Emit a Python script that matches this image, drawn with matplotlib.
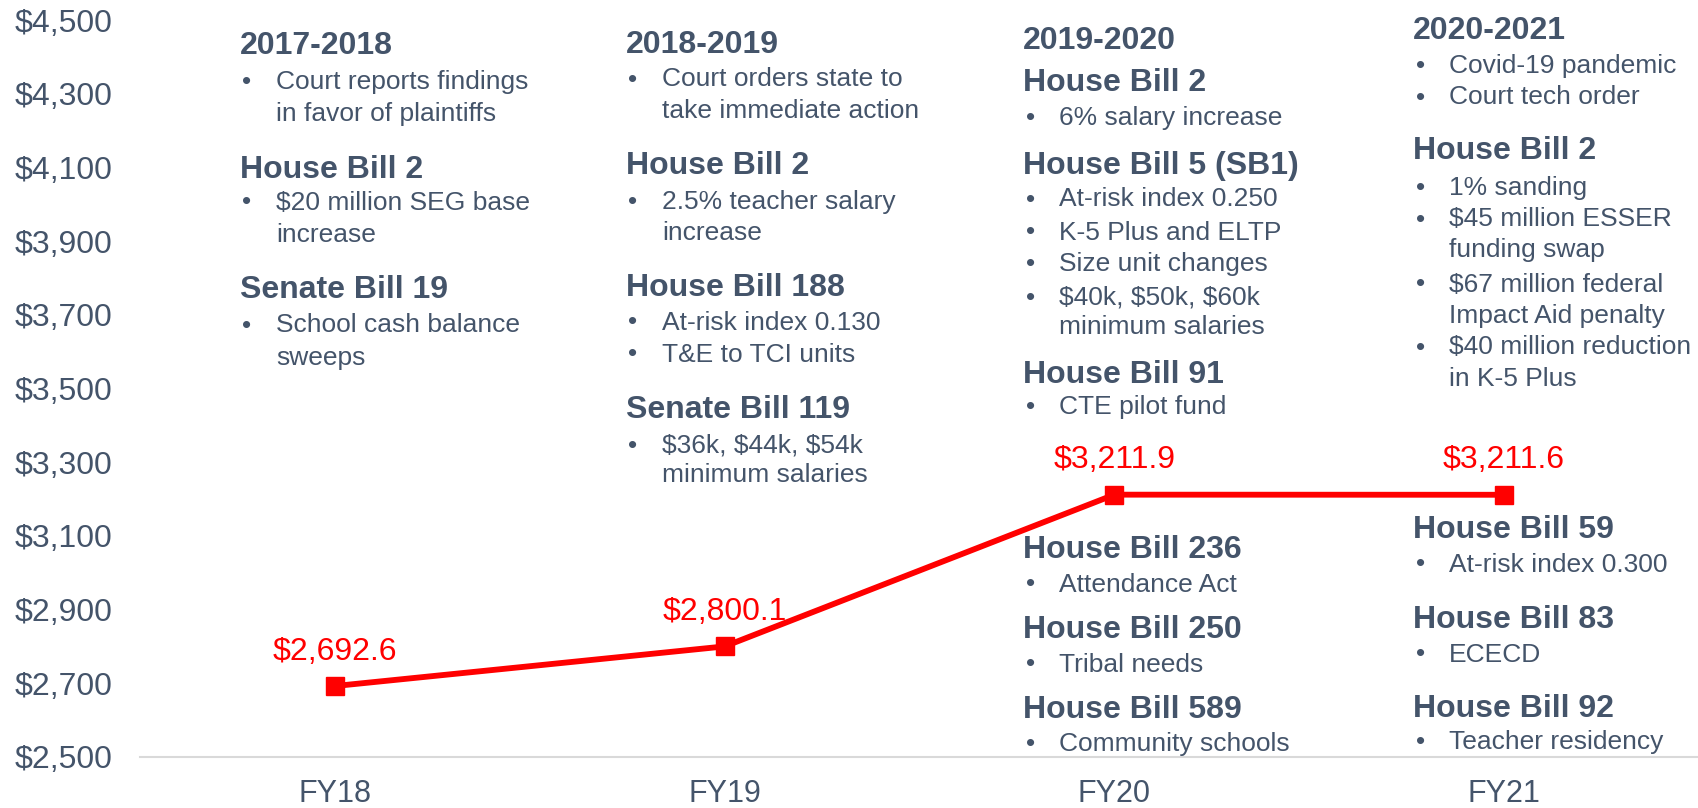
import matplotlib
matplotlib.use("Agg")
import matplotlib.pyplot as plt
from matplotlib.ticker import FuncFormatter

# ---------------- data ----------------
categories = ["FY18", "FY19", "FY20", "FY21"]
values = [2692.6, 2800.1, 3211.9, 3211.6]
value_labels = ["$2,692.6", "$2,800.1", "$3,211.9", "$3,211.6"]
y_ticks = [2500, 2700, 2900, 3100, 3300, 3500, 3700, 3900, 4100, 4300, 4500]

# note content: ("h", heading) / ("b", bullet) / ("c", continuation line)
notes_fy18 = [("h", "2017-2018"), ("b", "Court reports findings"), ("c", "in favor of plaintiffs"),
              ("h", "House Bill 2"), ("b", "$20 million SEG base"), ("c", "increase"),
              ("h", "Senate Bill 19"), ("b", "School cash balance"), ("c", "sweeps")]
notes_fy19 = [("h", "2018-2019"), ("b", "Court orders state to"), ("c", "take immediate action"),
              ("h", "House Bill 2"), ("b", "2.5% teacher salary"), ("c", "increase"),
              ("h", "House Bill 188"), ("b", "At-risk index 0.130"), ("b", "T&E to TCI units"),
              ("h", "Senate Bill 119"), ("b", "$36k, $44k, $54k"), ("c", "minimum salaries")]
notes_fy20_top = [("h", "2019-2020"), ("h", "House Bill 2"), ("b", "6% salary increase"),
                  ("h", "House Bill 5 (SB1)"), ("b", "At-risk index 0.250"), ("b", "K-5 Plus and ELTP"),
                  ("b", "Size unit changes"), ("b", "$40k, $50k, $60k"), ("c", "minimum salaries"),
                  ("h", "House Bill 91"), ("b", "CTE pilot fund")]
notes_fy20_bottom = [("h", "House Bill 236"), ("b", "Attendance Act"),
                     ("h", "House Bill 250"), ("b", "Tribal needs"),
                     ("h", "House Bill 589"), ("b", "Community schools")]
notes_fy21_top = [("h", "2020-2021"), ("b", "Covid-19 pandemic"), ("b", "Court tech order"),
                  ("h", "House Bill 2"), ("b", "1% sanding"), ("b", "$45 million ESSER"),
                  ("c", "funding swap"), ("b", "$67 million federal"), ("c", "Impact Aid penalty"),
                  ("b", "$40 million reduction"), ("c", "in K-5 Plus")]
notes_fy21_bottom = [("h", "House Bill 59"), ("b", "At-risk index 0.300"),
                     ("h", "House Bill 83"), ("b", "ECECD"),
                     ("h", "House Bill 92"), ("b", "Teacher residency")]

# ---------------- layout (pixels) ----------------
W, H = 1699, 808
DPI = 100
TEXT = "#44546A"
RED = "#FF0000"
FONT = "Liberation Sans"

plt.rcParams["font.family"] = [FONT, "DejaVu Sans"]

fig = plt.figure(figsize=(W / DPI, H / DPI), dpi=DPI)
ax_left, ax_right, ax_top, ax_bottom = 140, 1699, 20, 757
ax = fig.add_axes([ax_left / W, 1 - ax_bottom / H, (ax_right - ax_left) / W, (ax_bottom - ax_top) / H])

x = list(range(len(categories)))
ax.plot(x, values, color=RED, lw=4.2, marker="s", ms=13.5, mec=RED, mfc=RED, solid_joinstyle="miter", zorder=3)
for xi, v, lab in zip(x, values, value_labels):
    ax.annotate(lab, (xi, v), xytext=(0, 19), textcoords="offset points",
                ha="center", va="baseline", color=RED, fontsize=23)

ax.set_xlim(-0.5, len(categories) - 0.5)
ax.set_ylim(y_ticks[0], y_ticks[-1])
ax.set_yticks(y_ticks)
ax.yaxis.set_major_formatter(FuncFormatter(lambda v, p: f"${v:,.0f}"))
ax.set_xticks(x)
ax.set_xticklabels(categories)
ax.tick_params(axis="y", length=0, pad=20, labelsize=23, labelcolor=TEXT)
ax.tick_params(axis="x", length=0, pad=16, labelsize=22, labelcolor=TEXT)
for s in ["left", "right", "top"]:
    ax.spines[s].set_visible(False)
ax.spines["bottom"].set_color("#D9D9D9")
ax.spines["bottom"].set_linewidth(1.5)
ax.patch.set_alpha(0)


def draw_notes(items, ys, xh, xb, xt):
    for (kind, txt), yc in zip(items, ys):
        if kind == "h":
            fig.text(xh / W, 1 - (yc + 11.4) / H, txt, fontsize=23, fontweight="bold",
                     color=TEXT, ha="left", va="baseline")
        else:
            if kind == "b":
                fig.text(xb / W, 1 - (yc + 9.5) / H, "\u2022", fontsize=19,
                         color=TEXT, ha="left", va="baseline")
            fig.text(xt / W, 1 - (yc + 9.5) / H, txt, fontsize=19,
                     color=TEXT, ha="left", va="baseline")


draw_notes(notes_fy18, [43, 80, 112, 167, 200, 233, 287, 323, 355], 240, 242, 276)
draw_notes(notes_fy19, [42, 77, 108, 163, 200, 230, 285, 320, 352, 407, 443, 473], 626, 628, 662)
draw_notes(notes_fy20_top, [38, 80, 115, 163, 197, 230, 262, 295, 325, 372, 405], 1023, 1026, 1059)
draw_notes(notes_fy20_bottom, [547, 582, 627, 662, 707, 742], 1023, 1026, 1059)
draw_notes(notes_fy21_top, [28, 63, 95, 148, 185, 217, 248, 282, 313, 345, 377], 1413, 1416, 1449)
draw_notes(notes_fy21_bottom, [527, 562, 617, 652, 706, 740], 1413, 1416, 1449)

fig.savefig("out.png", dpi=DPI)
